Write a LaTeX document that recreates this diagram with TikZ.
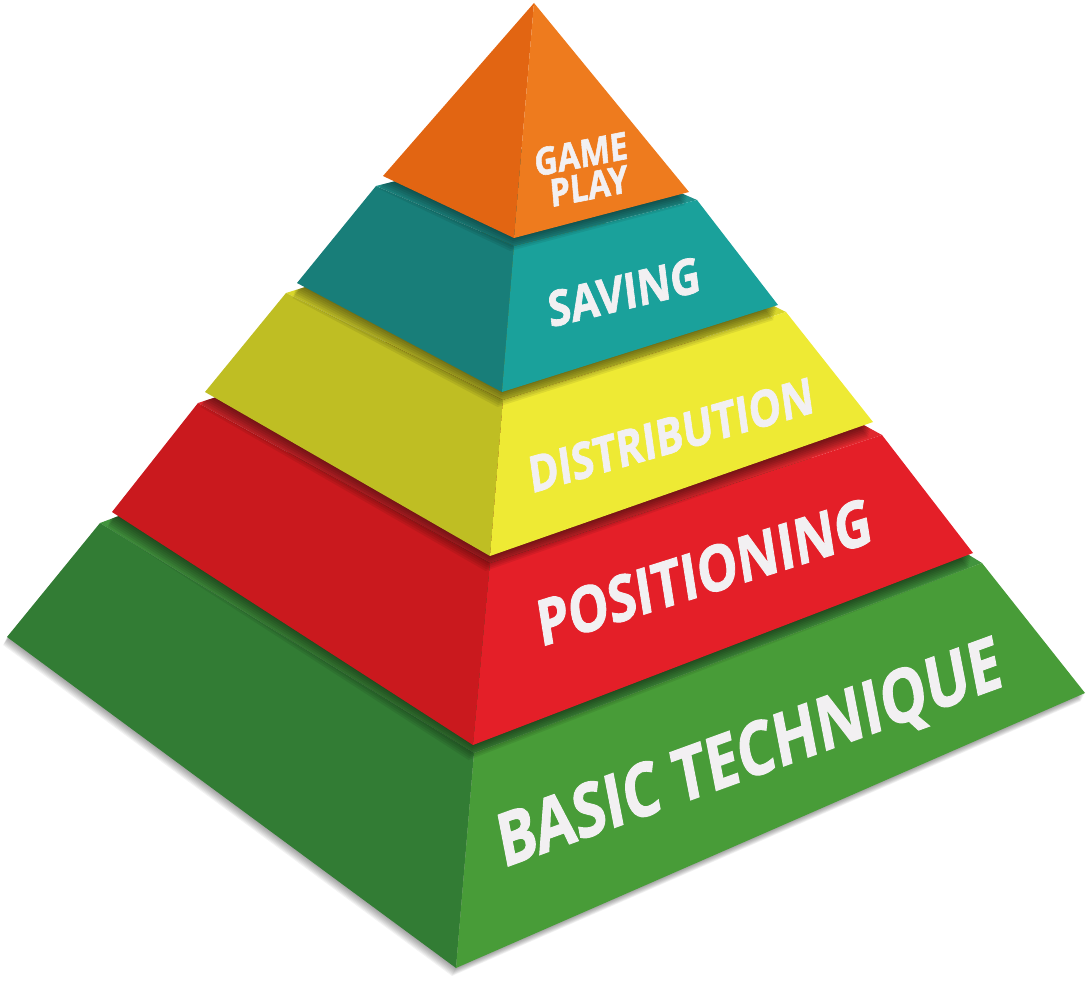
\documentclass[tikz,border=0pt]{standalone}
\usepackage{fontspec}
\setmainfont{Open Sans}
\newfontfamily\labelfont{Open Sans}[BoldFeatures={FakeBold=1.6}]
\usetikzlibrary{calc}
\definecolor{orL}{RGB}{226,101,18}
\definecolor{orR}{RGB}{238,123,30}
\definecolor{teL}{RGB}{24,126,121}
\definecolor{teR}{RGB}{26,161,155}
\definecolor{teT}{RGB}{32,146,140}
\definecolor{yeL}{RGB}{191,190,35}
\definecolor{yeR}{RGB}{238,234,52}
\definecolor{yeT}{RGB}{216,214,44}
\definecolor{reL}{RGB}{202,25,30}
\definecolor{reR}{RGB}{228,31,40}
\definecolor{reT}{RGB}{224,40,46}
\definecolor{grL}{RGB}{50,124,52}
\definecolor{grR}{RGB}{72,156,56}
\definecolor{grT}{RGB}{66,148,62}
\definecolor{txt}{RGB}{242,240,242}
\newcommand\pyrslab[4]{%
  \fill[#4] (#1Lt) -- (#1Ft) -- (#1Rt) -- ($(#1Lt)+(#1Rt)-(#1Ft)$) -- cycle;
  \fill[#2] (#1Lt) -- (#1Ft) -- (#1Fb) -- (#1Lb) -- cycle;
  \fill[#3] (#1Ft) -- (#1Rt) -- (#1Rb) -- (#1Fb) -- cycle;
}
\newcommand\castshadow[2]{%
  \begin{scope}
    \clip ($(#2Lt)+(#2Rt)-(#2Ft)$) -- (#2Lt) -- (#2Lb) -- (#2Fb) -- (#2Rb) -- (#2Rt) -- cycle;
    \foreach \d in {1,3,...,15} {
      \fill[black,opacity=0.075] ($(#1Lt)+(-0.3*\d,\d)$) -- ($(#1Lb)+(-0.3*\d,\d)$) -- ($(#1Fb)+(-0.3*\d,\d)$) -- ($(#1Rb)+(-0.3*\d,\d)$) -- ($(#1Rt)+(-0.3*\d,\d)$) -- cycle;
    }
  \end{scope}}
\tikzset{facelabel/.style={text=txt,inner sep=0}}
\newcommand\facetext[8]{% name, x, y, rot, slant, size, xscale, text
  \node[facelabel,font=\labelfont\fontsize{#6}{#6}\selectfont\bfseries,rotate=#4,yslant=#5,xscale=#7] (#1) at (#2,#3) {#8};
}
\begin{document}
\begin{tikzpicture}[x=1pt,y=-1pt]
\useasboundingbox (0,0) rectangle (1088,987);
% corner points
\coordinate (oA) at (534,3);   \coordinate (oL) at (383,176);
\coordinate (oF) at (514,238); \coordinate (oR) at (689,192);
\coordinate (tLt) at (376,186); \coordinate (tFt) at (514,246); \coordinate (tRt) at (697,200);
\coordinate (tLb) at (297,283); \coordinate (tFb) at (502,392); \coordinate (tRb) at (778,305);
\coordinate (yLt) at (286,293); \coordinate (yFt) at (503,400); \coordinate (yRt) at (786,312);
\coordinate (yLb) at (205,392); \coordinate (yFb) at (490,556); \coordinate (yRb) at (873,422);
\coordinate (rLt) at (198,403); \coordinate (rFt) at (490,563); \coordinate (rRt) at (882,435);
\coordinate (rLb) at (112,512); \coordinate (rFb) at (473,745); \coordinate (rRb) at (973,553);
\coordinate (gLt) at (100,523); \coordinate (gFt) at (474,753); \coordinate (gRt) at (982,563);
\coordinate (gLb) at (7,637);   \coordinate (gFb) at (456,968); \coordinate (gRb) at (1085,693);
% ground shadow
\foreach \d in {1,2,...,8} {
  \fill[black,opacity=0.05] ($(gLt)+(-0.5*\d,\d)$) -- ($(gLb)+(-0.5*\d,\d)$) -- ($(gFb)+(-0.5*\d,\d)$) -- ($(gRb)+(-0.5*\d,\d)$) -- ($(gRt)+(-0.5*\d,\d)$) -- cycle;
}
% layers from bottom up
\pyrslab{g}{grL}{grR}{grT}
\castshadow{r}{g}
\pyrslab{r}{reL}{reR}{reT}
\castshadow{y}{r}
\pyrslab{y}{yeL}{yeR}{yeT}
\castshadow{t}{y}
\pyrslab{t}{teL}{teR}{teT}
\begin{scope}
  \clip ($(tLt)+(tRt)-(tFt)$) -- (tLt) -- (tLb) -- (tFb) -- (tRb) -- (tRt) -- cycle;
  \foreach \d in {1,3,...,13} {
    \fill[black,opacity=0.075] ($(oA)+(-0.3*\d,\d)$) -- ($(oL)+(-0.3*\d,\d)$) -- ($(oF)+(-0.3*\d,\d)$) -- ($(oR)+(-0.3*\d,\d)$) -- cycle;
  }
\end{scope}
\fill[orL] (oA) -- (oL) -- (oF) -- cycle;
\fill[orR] (oA) -- (oF) -- (oR) -- cycle;
% labels
\facetext{game}{581}{154}{5}{0.105}{38}{0.85}{GAME}
\facetext{play}{589}{186}{5}{0.105}{38}{0.85}{PLAY}
\facetext{saving}{624}{292}{7}{0.114}{49}{0.85}{SAVING}
\facetext{distribution}{671}{435}{8}{0.14}{50}{0.82}{DISTRIBUTION}
\facetext{positioning}{704}{572}{9}{0.15}{63}{0.82}{POSITIONING}
\facetext{basic}{750}{757}{11}{0.158}{73}{0.81}{BASIC TECHNIQUE}
\end{tikzpicture}
\end{document}
